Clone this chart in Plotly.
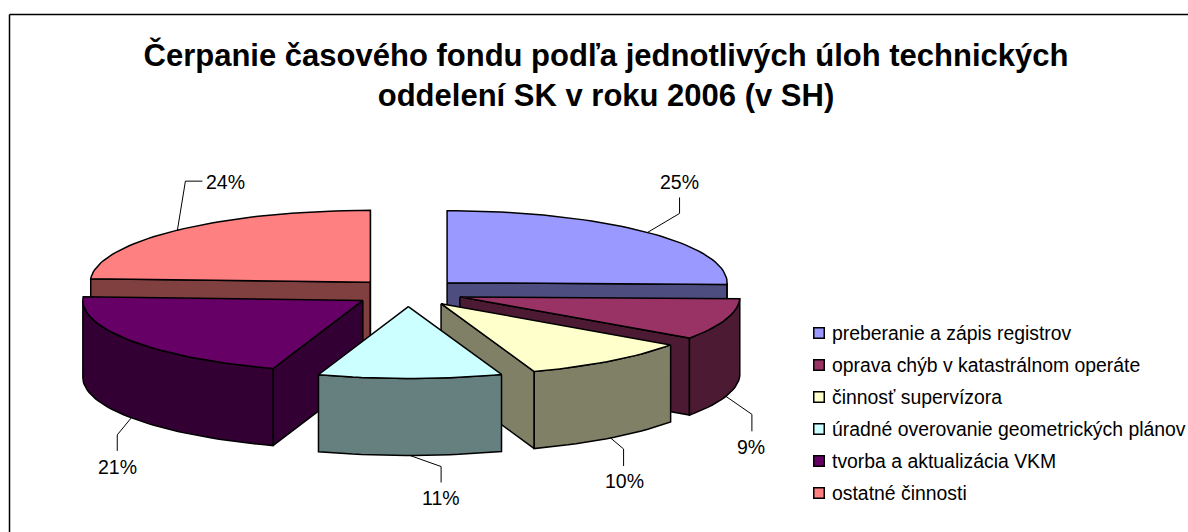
import math
import plotly.graph_objects as go

# ---- data ----
categories = [
    "preberanie a zápis registrov",
    "oprava chýb v katastrálnom operáte",
    "činnosť supervízora",
    "úradné overovanie geometrických plánov",
    "tvorba a aktualizácia VKM",
    "ostatné činnosti",
]
shares = [25.4, 9.3, 9.9, 10.6, 20.6, 24.2]
top_colors = ["#9999FF", "#993366", "#FFFFCC", "#CCFFFF", "#660066", "#FF8080"]
side_colors = ["#4D4D80", "#4D1A33", "#808066", "#668080", "#330033", "#804040"]
title_text = ("<b>Čerpanie časového fondu podľa jednotlivých úloh technických<br>"
              "oddelení SK v roku 2006 (v SH)</b>")

# ---- pie geometry (page pixels) ----
W, H = 1188, 532
CX, CY, RX, RY = 408, 292.5, 280, 72
DEPTH, EXPLODE = 77, 0.195
DRAW_ORDER = [5, 0, 4, 1, 2, 3]
# elbow offset from slice rim, then label offset from elbow
LEADERS = [(32, -19, 0, -16), (26, 18, 0, 17), (13, 11, 0, 17),
           (31, 11, 0, 16), (-14, 17, 0, 16), (8, -49, 17, 0)]
LABEL_SHIFT = [(0, -15), (-1, 16), (1, 15), (0, 15), (0, 16), (23, 1)]
FONT = "Liberation Sans, Arial, sans-serif"
LINE = "#000000"

fig = go.Figure()
total = sum(shares)
starts, acc = [], 0.0
for s in shares:
    starts.append(acc)
    acc += s


def rim(apex, pct, dy=0):
    a = pct / total * 2 * math.pi
    return apex[0] + RX * math.sin(a), apex[1] - RY * math.cos(a) + dy


def apex_of(i):
    mid = (starts[i] + shares[i] / 2) / total * 2 * math.pi
    return CX + EXPLODE * RX * math.sin(mid), CY - EXPLODE * RY * math.cos(mid)


def poly(xy, fill, name=""):
    fig.add_trace(go.Scatter(
        x=[p[0] for p in xy], y=[p[1] for p in xy], mode="lines", fill="toself",
        fillcolor=fill, line=dict(color=LINE, width=1.5), hoverinfo="skip",
        showlegend=False, name=name))


for i in DRAW_ORDER:
    ap = apex_of(i)
    n = max(8, int(shares[i] * 2))
    pcts = [starts[i] + shares[i] * k / n for k in range(n + 1)]
    arc = [rim(ap, p) for p in pcts]
    ap_low = (ap[0], ap[1] + DEPTH)
    # radial walls that face the viewer
    if math.sin(pcts[0] / total * 2 * math.pi) < 0:
        poly([ap, arc[0], (arc[0][0], arc[0][1] + DEPTH), ap_low, ap], side_colors[i])
    if math.sin(pcts[-1] / total * 2 * math.pi) > 0:
        poly([ap, arc[-1], (arc[-1][0], arc[-1][1] + DEPTH), ap_low, ap], side_colors[i])
    # curved wall: front half of the rim only
    lo, hi = max(pcts[0], total * 0.25), min(pcts[-1], total * 0.75)
    if hi > lo:
        wall_p = [lo + (hi - lo) * k / n for k in range(n + 1)]
        wall = [rim(ap, p) for p in wall_p]
        low = [(x, y + DEPTH) for x, y in wall]
        poly(wall + low[::-1] + [wall[0]], side_colors[i])
    poly([ap] + arc + [ap], top_colors[i], categories[i])

# percent labels with leader lines
for i in range(len(shares)):
    ap = apex_of(i)
    mid = starts[i] + shares[i] / 2
    x0, y0 = rim(ap, mid)
    if math.cos(mid / total * 2 * math.pi) < 0:
        y0 += DEPTH
    dx1, dy1, dx2, dy2 = LEADERS[i]
    x1, y1 = x0 + dx1, y0 + dy1
    x2, y2 = x1 + dx2, y1 + dy2
    fig.add_trace(go.Scatter(x=[x0, x1, x2], y=[y0, y1, y2], mode="lines",
                             line=dict(color="#000000", width=1), hoverinfo="skip",
                             showlegend=False))
    fig.add_annotation(x=x2 + LABEL_SHIFT[i][0], y=y2 + LABEL_SHIFT[i][1],
                       text=f"{round(shares[i])}%", showarrow=False,
                       font=dict(family=FONT, size=19.5, color="#000000"))

# legend
LEG_X, LEG_Y0, LEG_STEP = 819, 333, 32
leg_y = [LEG_Y0 + k * LEG_STEP for k in range(len(categories))]
fig.add_trace(go.Scatter(
    x=[LEG_X] * len(categories), y=leg_y, mode="markers",
    marker=dict(symbol="square", size=10.5, color=top_colors,
                line=dict(color="#000000", width=1.5)),
    hoverinfo="skip", showlegend=False))
for name, y in zip(categories, leg_y):
    fig.add_annotation(x=LEG_X + 13, y=y, text=name, xanchor="left", xshift=-2,
                       showarrow=False,
                       font=dict(family=FONT, size=19.4, color="#000000"))

fig.update_layout(
    width=W, height=H, margin=dict(l=0, r=0, t=0, b=0),
    paper_bgcolor="#FFFFFF", plot_bgcolor="#FFFFFF", showlegend=False,
    title=dict(text=title_text, x=606 / W, xanchor="center", y=1 - 66 / H,
               yanchor="middle", font=dict(family=FONT, size=31, color="#000000")),
    xaxis=dict(range=[0, W], visible=False, fixedrange=True),
    yaxis=dict(range=[H, 0], visible=False, fixedrange=True),
    shapes=[
        dict(type="line", x0=9.5, y0=14.5, x1=1188, y1=14.5,
             line=dict(color="#000000", width=1.5), layer="below"),
        dict(type="line", x0=9.5, y0=14.5, x1=9.5, y1=532,
             line=dict(color="#000000", width=1.5), layer="below"),
    ],
)
fig.write_html("out.html", config={"displayModeBar": False},
               post_script="document.body.style.margin='0';document.documentElement.style.overflow='hidden';")
